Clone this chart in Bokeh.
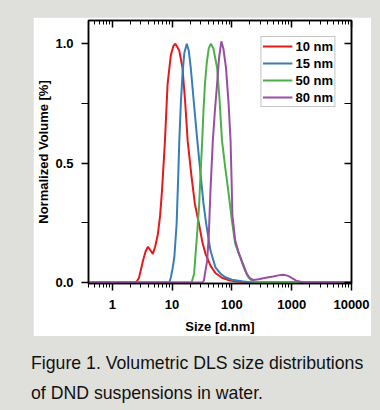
from bokeh.plotting import figure
from bokeh.models import (Range1d, FixedTicker, LogAxis, LinearAxis, Legend, LegendItem,
                          Div, PrintfTickFormatter, CustomJSTickFormatter, GlobalInlineStyleSheet)
from bokeh.layouts import column
from bokeh.embed import file_html
from bokeh.resources import INLINE

# ---- data ----
red_x = [0.4, 2.5, 2.8, 3.25, 3.6, 3.94, 4.35, 4.76, 5.2, 5.76, 6.3, 6.78, 7.6, 8.4, 9.5, 10.5, 11.3,
         12.3, 13.2, 14.9, 16.5, 18.2, 21, 24, 28.2, 32, 36.2, 44, 53, 68, 88, 120, 180, 10000]
red_y = [0, 0, 0.02, 0.09, 0.13, 0.15, 0.135, 0.12, 0.15, 0.2, 0.28, 0.385, 0.594, 0.83, 0.95, 0.99, 1.0,
         0.985, 0.97, 0.9, 0.76, 0.594, 0.45, 0.33, 0.245, 0.17, 0.12, 0.07, 0.04, 0.02, 0.01, 0.004, 0.001, 0]

blue_x = [0.4, 9.0, 9.55, 10.2, 10.9, 11.9, 12.7, 13.2, 14.0, 14.9, 16.0, 17.6, 19.0, 20.5, 23, 26.4,
          29.9, 33.5, 37.2, 43.8, 53, 64, 77.5, 100, 146, 214, 10000]
blue_y = [0, 0, 0.022, 0.06, 0.106, 0.245, 0.455, 0.594, 0.75, 0.87, 0.96, 1.0, 0.97, 0.9, 0.76, 0.594,
          0.455, 0.33, 0.245, 0.134, 0.064, 0.038, 0.022, 0.012, 0.005, 0, 0]

green_x = [0.4, 21.2, 23.3, 25.7, 28.2, 29.9, 31.9, 33.5, 35.4, 38, 41, 44.5, 49, 56.5, 62, 68.3, 77.5,
           88.2, 100, 113.5, 137, 160, 189, 214, 260, 10000]
green_y = [0, 0, 0.036, 0.176, 0.315, 0.455, 0.594, 0.72, 0.83, 0.92, 0.98, 1.0, 0.98, 0.9, 0.77, 0.594,
           0.48, 0.372, 0.26, 0.163, 0.106, 0.06, 0.022, 0.008, 0, 0]

purple_x = [0.4, 31.9, 34.0, 35.4, 38.6, 41.2, 43.8, 48.0, 52, 56.5, 61, 66.6, 72, 79.6, 88, 95, 99, 102,
            113.5, 130, 146, 177, 200, 228, 280, 334, 410, 489, 600, 716, 820, 920, 1050, 1187, 1531,
            2000, 10000]
purple_y = [0, 0, 0.008, 0.036, 0.092, 0.205, 0.385, 0.594, 0.72, 0.83, 0.94, 1.01, 0.98, 0.9, 0.75, 0.594,
            0.42, 0.28, 0.176, 0.125, 0.092, 0.036, 0.018, 0.011, 0.014, 0.018, 0.022, 0.025, 0.03, 0.033,
            0.03, 0.025, 0.016, 0.008, 0.001, 0, 0]

labels = ["10 nm", "15 nm", "50 nm", "80 nm"]
colors = ["#e41a1c", "#377eb8", "#4daf4a", "#984ea3"]

x_major = [1, 10, 100, 1000, 10000]
x_minor = [m * 10.0 ** k for k in range(-1, 4) for m in range(2, 10) if m * 10.0 ** k >= 0.4]
y_major = [0.0, 0.5, 1.0]
y_minor = [0.25, 0.75]

FONT = "Liberation Sans"

p = figure(width=338, height=319, x_axis_type="log",
           x_range=Range1d(0.4, 10000), y_range=Range1d(-0.004, 1.097),
           output_backend="svg", toolbar_location=None,
           min_border_left=52, min_border_right=20, min_border_top=3, min_border_bottom=53,
           border_fill_color="white", background_fill_color="white",
           outline_line_color="black", outline_line_width=1.5)
p.margin = (17, 0, 0, 33)
p.grid.visible = False

renderers = []
for xs, ys, c in zip([red_x, blue_x, green_x, purple_x], [red_y, blue_y, green_y, purple_y], colors):
    renderers.append(p.line(xs, ys, line_color=c, line_width=2))

# bottom axis
xa = p.xaxis[0]
xa.ticker = FixedTicker(ticks=x_major, minor_ticks=x_minor)
xa.formatter = PrintfTickFormatter(format="%d")
xa.axis_label = "Size [d.nm]"
# left axis
ya = p.yaxis[0]
ya.ticker = FixedTicker(ticks=y_major, minor_ticks=y_minor)
ya.formatter = PrintfTickFormatter(format="%.1f")
ya.axis_label = "Normalized Volume [%]"

for ax in (xa, ya):
    ax.axis_line_width = 1.5
    ax.major_tick_line_width = 1.5
    ax.minor_tick_line_width = 1
    ax.major_tick_in = 0
    ax.major_tick_out = 7
    ax.minor_tick_in = 0
    ax.major_label_text_font = FONT
    ax.major_label_text_font_style = "bold"
    ax.major_label_text_font_size = "13px"
    ax.major_label_text_color = "black"
    ax.axis_label_text_font = FONT
    ax.axis_label_text_font_style = "bold"
    ax.axis_label_text_font_size = "13px"
    ax.axis_label_text_color = "black"
xa.minor_tick_out = 4
ya.minor_tick_out = 7
xa.major_label_standoff = 9
ya.major_label_standoff = 8
xa.axis_label_standoff = 7
ya.axis_label_standoff = 1

blank = CustomJSTickFormatter(code="return ''")
top = LogAxis(ticker=FixedTicker(ticks=x_major, minor_ticks=x_minor), formatter=blank,
              major_tick_in=7, major_tick_out=0, minor_tick_in=4, minor_tick_out=0,
              major_label_standoff=0, axis_line_width=1.5, major_tick_line_width=1.5,
              minor_tick_line_width=1)
right = LinearAxis(ticker=FixedTicker(ticks=y_major, minor_ticks=y_minor), formatter=blank,
                   major_tick_in=7, major_tick_out=0, minor_tick_in=7, minor_tick_out=0,
                   major_label_standoff=0, axis_line_width=1.5, major_tick_line_width=1.5,
                   minor_tick_line_width=1)
p.add_layout(top, "above")
p.add_layout(right, "right")

legend = Legend(items=[LegendItem(label=l, renderers=[r]) for l, r in zip(labels, renderers)],
                location="top_right", margin=16, padding=1, spacing=1,
                glyph_width=30, glyph_height=16, label_standoff=3,
                label_text_font=FONT, label_text_font_style="bold", label_text_font_size="13px",
                label_text_color="black", label_height=16,
                border_line_color="#8a8a8a", border_line_width=1,
                background_fill_color="white", background_fill_alpha=1)
p.add_layout(legend)

caption = Div(text="Figure 1. Volumetric DLS size distributions<br>of DND suspensions in water.",
              styles={"font-family": "'Liberation Sans', Arial, sans-serif", "font-size": "17.7px",
                      "line-height": "30px", "color": "#111111"},
              width=340, height=60)
caption.margin = (12, 0, 0, 31)

layout = column(p, caption,
                stylesheets=[GlobalInlineStyleSheet(css="body { background-color: #dfe0db; }")])

open("out.html", "w").write(file_html(layout, INLINE))
